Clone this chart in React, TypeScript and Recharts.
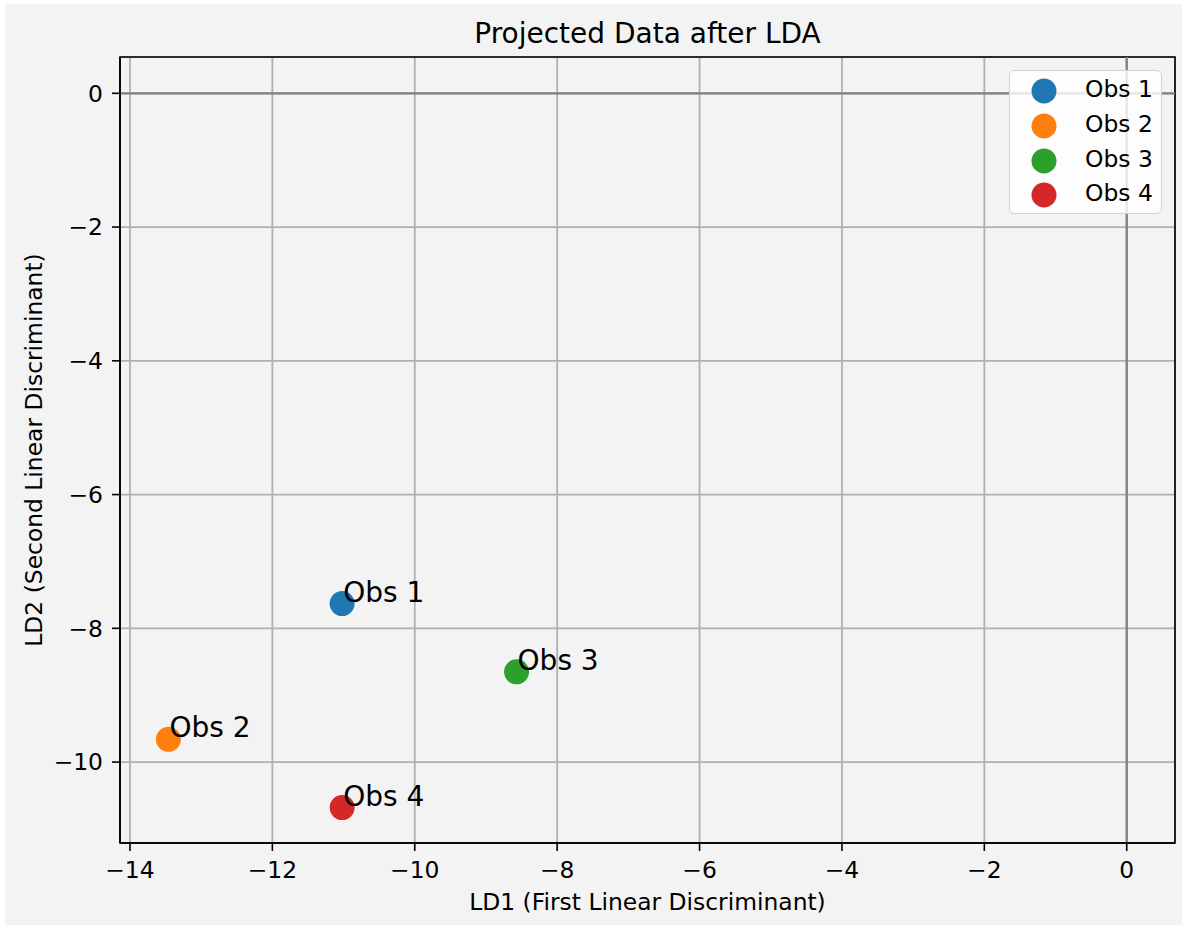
import React from 'react';
import { ScatterChart, Scatter, XAxis, YAxis, CartesianGrid, ReferenceLine, ReferenceArea, Legend, LabelList, Label } from 'recharts';

const obsNames = ['Obs 1', 'Obs 2', 'Obs 3', 'Obs 4'];
const ld1Values = [-11.02, -13.46, -8.57, -11.02];
const ld2Values = [-7.63, -9.66, -8.65, -10.68];
const obsColors = ['#1f77b4', '#ff7f0e', '#2ca02c', '#d62728'];
const xTicks = [-14, -12, -10, -8, -6, -4, -2, 0];
const yTicks = [0, -2, -4, -6, -8, -10];

const X_DOMAIN: [number, number] = [-14.14, 0.678];
const Y_DOMAIN: [number, number] = [-11.21, 0.543];

const FONT = '"DejaVu Sans", sans-serif';
const fmt = (v: number) => (v < 0 ? '\u2212' + Math.abs(v) : String(v));

const W = 1185;
const H = 928;

const LegendBox = (props: any) => {
  const payload = props.payload || [];
  return (
    <div
      style={{
        width: 151,
        height: 142,
        background: 'rgba(255,255,255,0.8)',
        border: '1.5px solid #d4d4d4',
        borderRadius: 5,
        position: 'relative',
        fontFamily: FONT,
        fontSize: 23.4,
        color: '#000',
      }}
    >
      {payload.map((p: any, i: number) => (
        <div key={i} style={{ position: 'absolute', left: 0, top: 5 + i * 34.8, height: 30, width: 150 }}>
          <svg width={30} height={30} style={{ position: 'absolute', left: 19, top: 0 }}>
            <circle cx={15} cy={15} r={12.5} fill={p.color} />
          </svg>
          <span style={{ position: 'absolute', left: 75, top: -2, lineHeight: '30px', whiteSpace: 'nowrap' }}>{p.value}</span>
        </div>
      ))}
    </div>
  );
};

export default function App() {
  const series = obsNames.map((name, i) => ({
    name,
    color: obsColors[i],
    data: [{ x: ld1Values[i], y: ld2Values[i], label: name }],
  }));

  return (
    <div style={{ position: 'absolute', left: 0, top: 0, width: W, height: H, background: '#ffffff' }}>
      <div style={{ position: 'absolute', left: 5, top: 4, width: 1177, height: 921, background: '#f3f3f3' }} />
      <div
        style={{
          position: 'absolute',
          left: 120,
          width: 1055,
          top: 16,
          textAlign: 'center',
          fontFamily: FONT,
          fontSize: 28,
          lineHeight: '36px',
          color: '#000',
        }}
      >
        Projected Data after LDA
      </div>
      <div style={{ position: 'absolute', left: 0, top: 0 }}>
        <ScatterChart width={W} height={H} margin={{ top: 57, right: 10, bottom: 0, left: 20 }}>
          <CartesianGrid stroke="#b0b0b0" strokeWidth={1.8} fill="none" />
          <XAxis
            type="number"
            dataKey="x"
            domain={X_DOMAIN}
            ticks={xTicks}
            tickFormatter={fmt}
            allowDataOverflow
            height={85}
            tickSize={8}
            tickMargin={10}
            axisLine={{ stroke: '#000', strokeWidth: 1.6 }}
            tickLine={{ stroke: '#000', strokeWidth: 1.6 }}
            tick={{ fill: '#000', fontSize: 23.4, fontFamily: FONT }}
          >
            <Label
              content={() => (
                <text x={647.5} y={910} textAnchor="middle" fontFamily={FONT} fontSize={23.4} fill="#000">
                  LD1 (First Linear Discriminant)
                </text>
              )}
            />
          </XAxis>
          <YAxis
            type="number"
            dataKey="y"
            domain={Y_DOMAIN}
            ticks={yTicks}
            tickFormatter={fmt}
            allowDataOverflow
            width={100}
            tickSize={8}
            tickMargin={9}
            axisLine={{ stroke: '#000', strokeWidth: 1.6 }}
            tickLine={{ stroke: '#000', strokeWidth: 1.6 }}
            tick={{ fill: '#000', fontSize: 23.4, fontFamily: FONT }}
          >
            <Label
              content={() => (
                <text
                  x={42}
                  y={450}
                  transform="rotate(-90 42 450)"
                  textAnchor="middle"
                  fontFamily={FONT}
                  fontSize={23.4}
                  fill="#000"
                >
                  LD2 (Second Linear Discriminant)
                </text>
              )}
            />
          </YAxis>
          <ReferenceLine x={0} stroke="#808080" strokeWidth={2.3} />
          <ReferenceLine y={0} stroke="#808080" strokeWidth={2.3} />
          <ReferenceArea
            x1={X_DOMAIN[0]}
            x2={X_DOMAIN[1]}
            y1={Y_DOMAIN[0]}
            y2={Y_DOMAIN[1]}
            fill="none"
            fillOpacity={0}
            stroke="#000"
            strokeWidth={1.6}
            ifOverflow="visible"
          />
          {series.map((s) => (
            <Scatter
              key={s.name}
              name={s.name}
              data={s.data}
              fill={s.color}
              isAnimationActive={false}
              shape={(p: any) => <circle cx={p.cx} cy={p.cy} r={12.5} fill={s.color} />}
            >
              <LabelList
                dataKey="label"
                content={(lp: any) => (
                  <text x={lp.x + lp.width / 2 + 1} y={lp.y + lp.height / 2 - 2} fontFamily={FONT} fontSize={28} fill="#000">
                    {lp.value}
                  </text>
                )}
              />
            </Scatter>
          ))}
          <Legend
            layout="horizontal"
            verticalAlign="middle"
            align="center"
            content={<LegendBox />}
            wrapperStyle={{ left: 1009, top: 70, width: 154, height: 145 }}
          />
        </ScatterChart>
      </div>
    </div>
  );
}
